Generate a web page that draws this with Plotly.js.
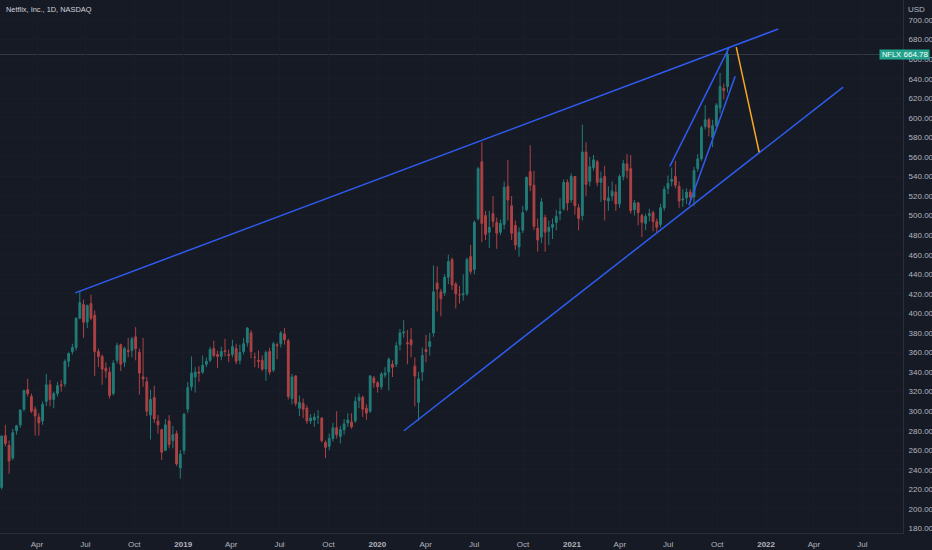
<!DOCTYPE html>
<html>
<head>
<meta charset="utf-8">
<script src="https://cdn.plot.ly/plotly-3.0.1.min.js"></script>
<style>
html,body{margin:0;padding:0;background:#161a25;}
#chart{width:932px;height:550px;}
</style>
</head>
<body>
<div id="chart"></div>
<script>
// ---- Weekly OHLC (NFLX, USD) ----
const weekStart2018 = '2018-01-22';
const open2018  = [222,275,265,252,280,286,302,322,315,302,294,290,310,327,312,318,327,328,351,361,365,395,409,391,410,398,361,356,344,340,318,352,368,350,362,362,376,360,335,330,296,314,290,281,260,290,270,277,242,260];
const high2018  = [275,286,270,282,286,302,322,333,318,305,298,310,338,332,320,330,332,353,360,369,396,423,414,409,419,403,364,358,350,345,352,370,369,366,375,376,386,364,375,335,322,326,296,282,292,296,285,280,260,298];
const low2018   = [220,264,236,250,276,283,300,315,298,275,275,286,305,305,303,315,320,325,345,358,362,394,375,385,393,336,345,327,334,313,316,349,341,345,355,355,352,317,325,295,271,288,277,250,259,262,262,244,231,256];
const close2018 = [274.6,267,249,278,285,301,321,318,300,295,288,307,327,312,318,326,326,351,359,365,395,411,391,408,395,361,356,343,341,316,349,367,348,364,361,374,364,339,333,300,312,292,286,258,286,266,276,246,256,297];

const weekStart2019 = '2019-01-07';
const open2019  = [302,325,335,340,340,348,352,364,358,356,362,358,358,364,352,361,370,380,355,352,352,343,361,342,368,369,379,372,313,336,303,308,303,290,291,294,293,268,264,272,283,274,281,288,289,290,311,314,303,300,334,329];
const high2019  = [330,356,345,346,357,355,366,372,362,366,374,363,373,369,368,375,386,383,360,362,357,362,365,371,370,382,385,374,338,337,316,313,306,297,298,301,294,270,277,288,300,285,292,298,298,315,318,316,307,337,336,331];
const low2019   = [298,321,319,330,338,345,350,355,344,352,356,350,355,348,348,358,366,354,345,344,341,331,337,340,353,365,368,312,307,305,295,293,287,287,284,287,268,252,260,269,272,267,276,284,282,288,303,294,291,298,324,319];
const close2019 = [324,339,340,339,347,351,363,357,356,361,361,357,366,351,360,369,385,361,355,351,343,360,340,369,367,380,373,315,335,308,309,302,290,293,294,294,270,263,272,283,276,281,287,291,284,310,314,302,298,336,329,325];

const weekStart2020 = '2020-01-06';
const open2020  = [325,337,340,348,348,368,380,370,373,346,309,340,363,366,380,431,422,421,437,455,430,419,419,420,458,445,497,555,500,483,502,493,483,491,530,510,490,468,485,506,545,531,487,478,498,484,488,493,502,507,534,516];
const high2020  = [340,345,355,352,371,384,393,383,385,355,340,365,378,380,449,448,425,440,460,457,432,428,440,457,470,495,550,575,505,505,520,498,496,535,557,520,495,488,510,540,572,546,497,518,501,495,497,506,518,537,537,543];
const low2020   = [322,334,321,335,345,362,375,348,355,305,290,331,350,357,376,402,397,418,430,424,405,410,413,418,440,440,495,473,475,467,488,466,480,486,495,475,465,458,482,504,525,485,463,472,463,470,476,485,495,505,505,513];
const close2020 = [338,339,353,345,367,380,381,369,368,336,333,357,361,371,422,425,415,437,453,429,420,419,420,455,443,493,548,492,481,488,494,482,492,529,516,482,470,483,503,539,531,489,475,514,483,488,491,499,504,534,513,540];

const weekStart2021 = '2021-01-04';
const open2021  = [540,508,500,565,535,549,555,534,540,515,520,524,512,540,553,548,506,513,500,492,500,503,494,491,508,528,535,540,530,516,518,524,519,548,558,591,598,580,592,610,630,632];
const high2021  = [540,512,593,575,560,562,557,545,551,530,535,532,542,557,563,562,516,514,502,502,507,505,497,512,530,541,549,556,535,527,528,527,550,563,592,613,600,598,615,646,635,671];
const low2021   = [501,485,495,520,530,546,530,514,495,505,515,505,508,536,538,502,500,490,478,485,494,484,483,488,505,522,530,528,508,509,512,513,510,545,556,588,581,570,590,605,619,626];
const close2021 = [510,497,565,532,550,557,534,538,516,518,525,512,540,553,546,505,513,503,493,499,502,494,488,508,527,533,537,531,515,517,524,519,546,558,590,598,590,592,613,632,628,664.78];

const lastPrice = 664.78;
const symbol = 'NFLX';

// ---- Drawn trend lines (date, price) ----
const trendStartDates  = ['2018-06-12','2020-02-20','2021-07-04','2021-08-09','2021-11-06'];
const trendStartPrices = [421, 280, 550.4, 510.5, 672.3];
const trendEndDates    = ['2022-01-24','2022-05-26','2021-10-23','2021-11-04','2021-12-19'];
const trendEndPrices   = [690.8, 631.4, 671.3, 642.6, 564.8];
const trendKinds       = ['blue','blue','blue','blue','orange'];

// ---- Axis ticks ----
const xTickDates  = ['2018-04-01','2018-07-01','2018-10-01','2019-01-01','2019-04-01','2019-07-01','2019-10-01','2020-01-01','2020-04-01','2020-07-01','2020-10-01','2021-01-01','2021-04-01','2021-07-01','2021-10-01','2022-01-01','2022-04-01','2022-07-01'];
const xTickLabels = ['Apr','Jul','Oct','2019','Apr','Jul','Oct','2020','Apr','Jul','Oct','2021','Apr','Jul','Oct','2022','Apr','Jul'];
const yTickVals   = [180,200,220,240,260,280,300,320,340,360,380,400,420,440,460,480,500,520,540,560,580,600,620,640,660,680,700,720];

// ---- build ----
function fmt(ms){ return new Date(ms).toISOString().slice(0,16).replace('T',' '); }
function weekDates(start, n){
  const t0 = Date.parse(start + 'T00:00:00Z');
  const out = [];
  for (let i = 0; i < n; i++) out.push(fmt(t0 + i*7*864e5 + 2.5*864e5));
  return out;
}
const xs = [].concat(
  weekDates(weekStart2018, open2018.length),
  weekDates(weekStart2019, open2019.length),
  weekDates(weekStart2020, open2020.length),
  weekDates(weekStart2021, open2021.length));
const O = [].concat(open2018, open2019, open2020, open2021);
const H = [].concat(high2018, high2019, high2020, high2021);
const L = [].concat(low2018, low2019, low2020, low2021);
const C = [].concat(close2018, close2019, close2020, close2021);

const UP = '#26a69a', DN = '#ef5350', BLUE = '#2f5cf0', ORANGE = '#f5a623';
const AXC = '#b2b5be';
const BG = '#161a25';
const FONT = 'Liberation Sans Narrow, Liberation Sans, Arial, sans-serif';
const TFONT = 'Liberation Sans, Arial, sans-serif';

const trace = {
  type: 'candlestick', x: xs, open: O, high: H, low: L, close: C,
  increasing: {line: {color: UP, width: 1}, fillcolor: UP},
  decreasing: {line: {color: DN, width: 1}, fillcolor: DN},
  opacity: 0.7, hoverinfo: 'skip', showlegend: false
};

const shapes = [{
  type: 'line', xref: 'paper', yref: 'y', x0: 0, x1: 1, y0: lastPrice, y1: lastPrice,
  line: {color: '#363b4a', width: 1}, layer: 'below'
}];
for (let i = 0; i < trendStartDates.length; i++) {
  shapes.push({
    type: 'line', xref: 'x', yref: 'y',
    x0: trendStartDates[i], y0: trendStartPrices[i],
    x1: trendEndDates[i], y1: trendEndPrices[i],
    line: {color: trendKinds[i] === 'orange' ? ORANGE : BLUE, width: 1.5}
  });
}

const W = 903, Hh = 533;
const layout = {
  width: 932, height: 550,
  margin: {l: 0, r: 29, t: 0, b: 17, pad: 0},
  paper_bgcolor: BG, plot_bgcolor: BG,
  font: {family: FONT, color: AXC, size: 8},
  xaxis: {
    type: 'date', range: ['2018-01-21 10:00', '2022-09-15 12:00'],
    rangeslider: {visible: false},
    tickvals: xTickDates,
    ticktext: xTickLabels.map(t => /^\d{4}$/.test(t) ? '<b>' + t + '</b>' : t),
    tickfont: {size: 8, color: AXC, family: FONT},
    showgrid: true, gridcolor: '#191d29', gridwidth: 1,
    showline: true, linecolor: '#2a2e39', linewidth: 1,
    ticks: 'outside', ticklen: 3, tickcolor: BG,
    zeroline: false, fixedrange: true
  },
  yaxis: {
    side: 'right', range: [175.4, 720.5],
    tickvals: yTickVals, tickformat: '.2f',
    tickfont: {size: 8, color: AXC, family: FONT},
    showgrid: true, gridcolor: '#191d29', gridwidth: 1,
    showline: true, linecolor: '#2a2e39', linewidth: 1,
    ticks: 'outside', ticklen: 3, tickcolor: BG,
    zeroline: false, fixedrange: true
  },
  shapes: shapes,
  annotations: [
    {text: 'Netflix, Inc., 1D, NASDAQ', xref: 'paper', yref: 'paper',
     x: 4/W, y: 1 - 10/Hh, xanchor: 'left', yanchor: 'middle', showarrow: false,
     font: {size: 7.4, color: '#d1d4dc', family: TFONT}},
    {text: 'USD', xref: 'paper', yref: 'paper', x: 916/W, y: 1 - 9.5/Hh,
     xanchor: 'center', yanchor: 'middle', showarrow: false,
     font: {size: 8, color: AXC, family: FONT}},
    {text: symbol, xref: 'paper', yref: 'y', x: 891.5/W, y: lastPrice,
     xanchor: 'center', yanchor: 'middle', showarrow: false,
     width: 22, height: 8, bgcolor: '#22a38d', borderpad: 0.5,
     font: {size: 7.5, color: '#ffffff', family: FONT}},
    {text: lastPrice.toFixed(2), xref: 'paper', yref: 'y', x: 916/W, y: lastPrice,
     xanchor: 'center', yanchor: 'middle', showarrow: false,
     width: 25, height: 8, bgcolor: '#22a38d', borderpad: 0.5,
     font: {size: 8, color: '#ffffff', family: FONT}}
  ]
};

Plotly.newPlot('chart', [trace], layout, {staticPlot: true, displayModeBar: false});
</script>
</body>
</html>
